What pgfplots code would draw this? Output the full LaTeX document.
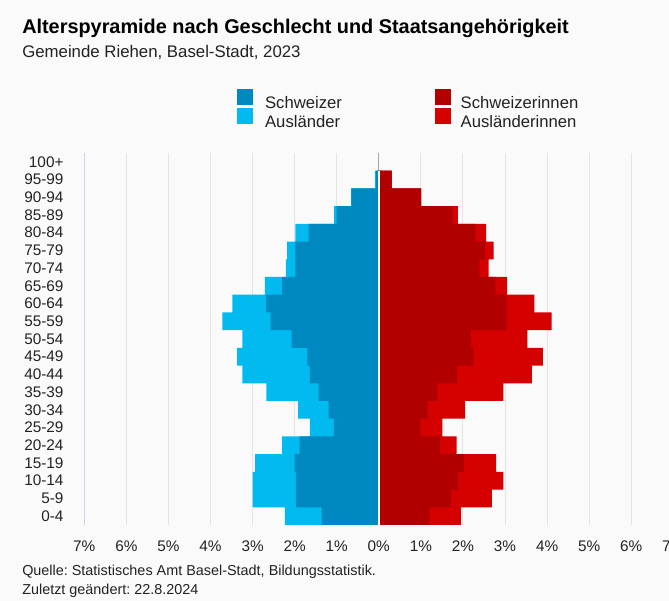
\documentclass[border=0pt]{standalone}
\usepackage{pgfplots}
\pgfplotsset{compat=1.18}
\usepackage{pgfplotstable}
\usepackage{fontspec}
\setmainfont{Liberation Sans}
\frenchspacing
\definecolor{bgc}{HTML}{FAFAFA}
\definecolor{chm}{RGB}{0,137,192}
\definecolor{aum}{RGB}{0,186,240}
\definecolor{chf}{RGB}{176,0,0}
\definecolor{auf}{RGB}{213,0,0}
\definecolor{gridc}{RGB}{228,228,228}
\definecolor{axc}{RGB}{200,214,240}
\definecolor{txt}{RGB}{34,34,34}

% idx: 0 = 0-4 ... 20 = 100+ ; values in percent
\pgfplotstableread{
idx sm am sf af
0 1.36 0.87 1.21 0.74
1 1.97 1.03 1.72 0.97
2 1.97 1.03 1.88 1.08
3 2.00 0.94 2.03 0.76
4 1.88 0.42 1.45 0.40
5 1.07 0.57 0.99 0.52
6 1.19 0.73 1.16 0.89
7 1.43 1.24 1.39 1.57
8 1.64 1.60 1.86 1.78
9 1.70 1.67 2.25 1.65
10 2.07 1.17 2.19 1.34
11 2.57 1.15 3.03 1.08
12 2.68 0.80 3.03 0.67
13 2.30 0.41 2.77 0.28
14 1.98 0.23 2.39 0.22
15 1.98 0.20 2.52 0.21
16 1.67 0.31 2.30 0.25
17 1.00 0.06 1.75 0.13
18 0.65 0.01 1.00 0.01
19 0.07 0.02 0.30 0.01
20 0.00 0.00 0.00 0.00
}\pyr

\pgfplotsset{
  myleg/.style={legend image code/.code={\fill[##1] (0pt,-1pt) rectangle (12pt,11pt);}},
}

\begin{document}
\begin{tikzpicture}
\path[use as bounding box, fill=bgc] (0pt,0pt) rectangle (501.75pt,450.75pt);
\node[anchor=base west, inner sep=0pt, font=\bfseries\fontsize{14.9}{17}\selectfont, text=black] at (16.5pt,425.8pt) {Alterspyramide nach Geschlecht und Staatsangehörigkeit};
\node[anchor=base west, inner sep=0pt, font=\fontsize{12.6}{15}\selectfont, text=txt] at (16.5pt,407.25pt) {Gemeinde Riehen, Basel-Stadt, 2023};
\node[anchor=base west, inner sep=0pt, font=\fontsize{10.8}{13}\selectfont, text=txt] at (16.5pt,19.5pt) {Quelle: Statistisches Amt Basel-Stadt, Bildungsstatistik.};
\node[anchor=base west, inner sep=0pt, font=\fontsize{10.8}{13}\selectfont, text=txt] at (16.5pt,5.25pt) {Zuletzt geändert: 22.8.2024};

\begin{axis}[
  at={(63.225pt,57pt)}, anchor=south west,
  width=441.75pt, height=279pt, scale only axis,
  xmin=-7, xmax=7, ymin=-0.5, ymax=20.5,
  xbar, bar width=1,
  axis y line*=left, axis x line*=bottom,
  x axis line style={draw=none},
  y axis line style={draw=axc, line width=0.75pt},
  xmajorgrids, grid style={draw=gridc, line width=0.75pt},
  xtick={-7,...,7},
  xticklabels={7\%,6\%,5\%,4\%,3\%,2\%,1\%,0\%,1\%,2\%,3\%,4\%,5\%,6\%,7\%},
  ytick={0,...,20},
  yticklabels={0-4,5-9,10-14,15-19,20-24,25-29,30-34,35-39,40-44,45-49,50-54,55-59,60-64,65-69,70-74,75-79,80-84,85-89,90-94,95-99,100+},
  major tick length=0pt,
  tick label style={font=\fontsize{11.5}{13}\selectfont, text=txt},
  xticklabel style={anchor=north, inner sep=0pt, yshift=-11.6pt},
  yticklabel style={anchor=east, inner sep=0pt, xshift=-15.4pt},
  legend columns=2, transpose legend, legend cell align=left,
  legend style={at={(axis description cs:0.259,1.172)}, anchor=north west,
    draw=none, fill=none, inner sep=0pt,
    font=\fontsize{12.5}{14}\selectfont, text=txt,
    row sep=-4.25pt,
    /tikz/column 1/.style={column sep=7pt},
    /tikz/column 2/.style={column sep=67.5pt},
    /tikz/column 3/.style={column sep=5.5pt}},
]
% men: foreigners stacked outside Swiss
\addplot[fill=aum, draw=none, bar shift=0pt, forget plot] table[y=idx, x expr=-\thisrow{sm}-\thisrow{am}] {\pyr};
\addplot[fill=chm, draw=none, bar shift=0pt, forget plot] table[y=idx, x expr=-\thisrow{sm}] {\pyr};
% women
\addplot[fill=auf, draw=none, bar shift=0pt, forget plot] table[y=idx, x expr=\thisrow{sf}+\thisrow{af}] {\pyr};
\addplot[fill=chf, draw=none, bar shift=0pt, forget plot] table[y=idx, x=sf] {\pyr};
\draw[white, line width=1.2pt] (axis cs:0,-0.5) -- (axis cs:0,19.5);
\addlegendimage{fill=chm, draw=none, myleg}
\addlegendentry{Schweizer}
\addlegendimage{fill=aum, draw=none, myleg}
\addlegendentry{Ausländer}
\addlegendimage{fill=chf, draw=none, myleg}
\addlegendentry{Schweizerinnen}
\addlegendimage{fill=auf, draw=none, myleg}
\addlegendentry{Ausländerinnen}
\end{axis}
\end{tikzpicture}
\end{document}
